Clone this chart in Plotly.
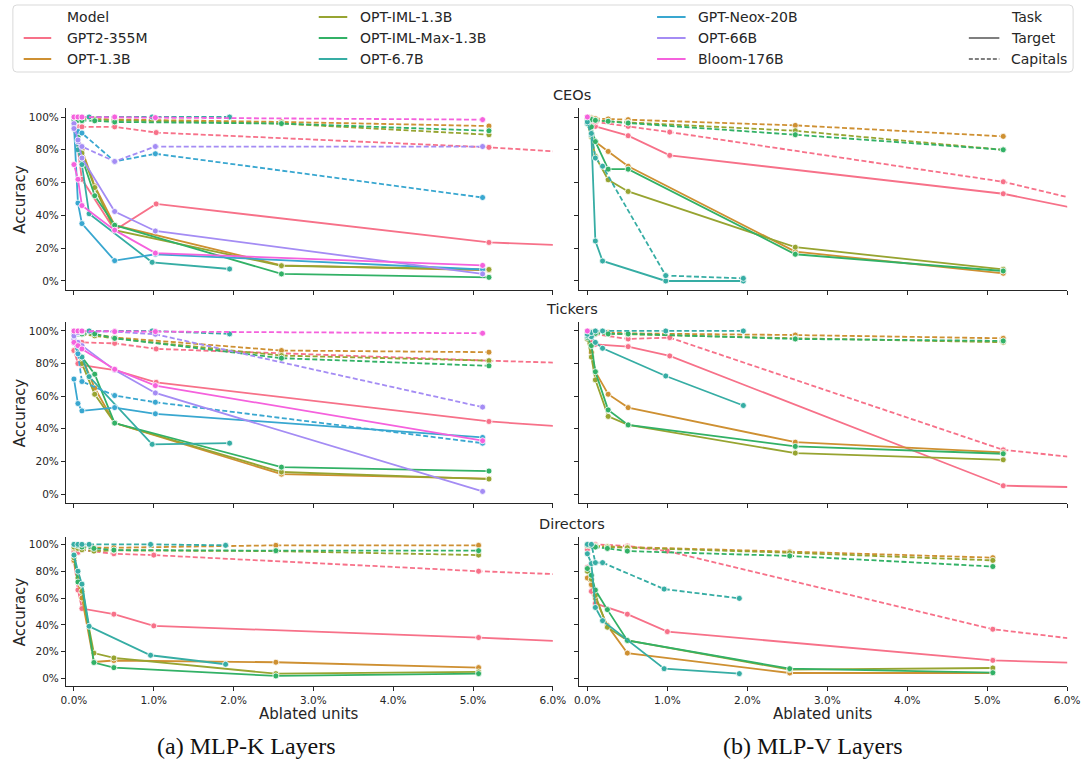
import plotly.graph_objects as go

W, H = 1092, 761

MODELS = ["GPT2-355M", "OPT-1.3B", "OPT-IML-1.3B", "OPT-IML-Max-1.3B",
          "OPT-6.7B", "GPT-Neox-20B", "OPT-66B", "Bloom-176B"]
COLORS = ["#f77189", "#ce9032", "#97a431", "#32b166",
          "#36ada4", "#39a7d0", "#a48cf4", "#f561dd"]

# ablated fraction of units (percent) per model family, CEOs / Tickers runs
X_GPT2_CT = [0.0, 0.05, 0.1, 0.51, 1.03, 5.2, 10.4]
X_OPT13_CT = [0.0, 0.05, 0.1, 0.26, 0.51, 2.6, 5.2]
X_OPT67_CT = [0.0, 0.05, 0.1, 0.19, 0.98, 1.95]
X_LARGE_CT = [0.0, 0.05, 0.1, 0.51, 1.02, 5.12]
# ablated fraction of units (percent) per model family, Directors runs
X_GPT2_D = [0.0, 0.05, 0.1, 0.5, 1.0, 5.07, 10.2]
X_OPT13_D = [0.0, 0.05, 0.1, 0.25, 0.5, 2.53, 5.07]
X_OPT67_D = [0.0, 0.05, 0.1, 0.19, 0.96, 1.9]
X_SINGLE = [0.0]

# ---- CEOs, MLP-K layers (accuracy, %) ----
CEOS_K_TARGET = {
    "GPT2-355M": [93, 80, 62, 31, 47, 23.5, 14],
    "OPT-1.3B": [97, 90, 80, 58, 34, 9.5, 6.5],
    "OPT-IML-1.3B": [96, 88, 78, 57, 31, 9.3, 7],
    "OPT-IML-Max-1.3B": [97, 88, 75, 52, 34, 4.3, 2.2],
    "OPT-6.7B": [94, 80, 71, 41, 11.4, 7.3],
    "GPT-Neox-20B": [95, 47.5, 35, 12.4, 16.3, 7],
    "OPT-66B": [96, 85, 75, 42.4, 30.5, 4.3],
    "Bloom-176B": [71, 62, 46, 31, 17, 9.5],
}
CEOS_K_CAPITALS = {
    "GPT2-355M": [93, 94, 94, 94, 90.5, 81.5, 66],
    "OPT-1.3B": [100, 99.5, 99, 98.8, 98.5, 97, 94.5],
    "OPT-IML-1.3B": [100, 99.5, 99, 98.5, 98, 96, 89.2],
    "OPT-IML-Max-1.3B": [98.4, 98, 97.8, 97.7, 97, 96, 91.6],
    "OPT-6.7B": [100, 100, 100, 100, 100, 100],
    "GPT-Neox-20B": [95.3, 91.2, 90.2, 72.9, 77.6, 50.9],
    "OPT-66B": [93, 86, 82, 72.9, 82, 82],
    "Bloom-176B": [100, 100, 100, 100, 99.6, 98.4],
}

# ---- CEOs, MLP-V layers ----
CEOS_V_TARGET = {
    "GPT2-355M": [97, 95, 94.3, 88.6, 76.6, 53.2, 1.5],
    "OPT-1.3B": [96, 90, 85, 79, 70, 17.9, 4.7],
    "OPT-IML-1.3B": [96, 88, 76, 61.7, 54.6, 20.6, 7.1],
    "OPT-IML-Max-1.3B": [97, 94, 85, 68.2, 68.2, 16.3, 6.1],
    "OPT-6.7B": [96, 89, 24.4, 12.2, 0, 0],
}
CEOS_V_CAPITALS = {
    "GPT2-355M": [99, 98, 97, 94.3, 90.8, 60.5, 0],
    "OPT-1.3B": [100, 99.5, 99, 98.8, 98.4, 94.9, 88.2],
    "OPT-IML-1.3B": [100, 99, 98, 97.4, 96.7, 91.6, 80],
    "OPT-IML-Max-1.3B": [99, 98.5, 98, 97.4, 96.3, 89.2, 80],
    "OPT-6.7B": [97, 90, 75, 70, 3.3, 1.6],
    "Bloom-176B": [100],
}

# ---- Tickers, MLP-K layers ----
TICKERS_K_TARGET = {
    "GPT2-355M": [88, 80, 79, 76, 68.5, 44.5, 27],
    "OPT-1.3B": [96, 88, 84, 65, 43.5, 12.2, 9.4],
    "OPT-IML-1.3B": [95, 86, 80, 61.2, 43.5, 13.5, 9.2],
    "OPT-IML-Max-1.3B": [95, 89, 84, 73.5, 43.5, 16.5, 14.1],
    "OPT-6.7B": [93, 87, 84, 72, 30.5, 31.2],
    "GPT-Neox-20B": [70.5, 55.5, 51, 53, 49.2, 34.7],
    "OPT-66B": [95, 93, 91, 76, 62, 1.6],
    "Bloom-176B": [93, 91, 89, 76.5, 66.5, 32.7],
}
TICKERS_K_CAPITALS = {
    "GPT2-355M": [88, 93, 93, 92.4, 89, 81.8, 74],
    "OPT-1.3B": [100, 99.5, 99, 98, 96, 88, 87],
    "OPT-IML-1.3B": [99, 98.5, 98, 97, 95.5, 84.9, 81.8],
    "OPT-IML-Max-1.3B": [98, 98.2, 98.2, 98.2, 95.5, 83.3, 78.6],
    "OPT-6.7B": [98, 99, 99.5, 100, 100, 98.2],
    "GPT-Neox-20B": [95, 86, 69, 60.4, 56.3, 31.2],
    "OPT-66B": [97, 99, 99.5, 99.6, 98, 53.3],
    "Bloom-176B": [100, 100, 100, 99.6, 99.6, 98.6],
}

# ---- Tickers, MLP-V layers ----
TICKERS_V_TARGET = {
    "GPT2-355M": [95, 93, 91.8, 90.4, 84.7, 5.1, 0],
    "OPT-1.3B": [96.5, 87, 75, 61.2, 53, 31.8, 25.5],
    "OPT-IML-1.3B": [95, 84, 70, 47.6, 42.4, 25.1, 21],
    "OPT-IML-Max-1.3B": [96, 91, 75, 51.6, 42.4, 29.2, 24.7],
    "OPT-6.7B": [97, 96.5, 93, 89.4, 72.4, 54.3],
}
TICKERS_V_CAPITALS = {
    "GPT2-355M": [97, 98, 98, 95.1, 95.9, 27.1, 0.5],
    "OPT-1.3B": [100, 99.5, 99, 99, 98.5, 97.5, 95.5],
    "OPT-IML-1.3B": [99, 99, 98.5, 98.2, 98, 95.5, 93.1],
    "OPT-IML-Max-1.3B": [99, 98.8, 98.5, 98.2, 98.2, 95.1, 93.9],
    "OPT-6.7B": [98, 99, 100, 100, 100, 100],
    "Bloom-176B": [100],
}

# ---- Directors, MLP-K layers ----
DIRECTORS_K_TARGET = {
    "GPT2-355M": [87.6, 66, 52.2, 48, 39.3, 30.6, 16.6],
    "OPT-1.3B": [88, 72, 60, 12.4, 13.5, 12.2, 8.2],
    "OPT-IML-1.3B": [90, 75, 65, 19, 15.4, 3.7, 5],
    "OPT-IML-Max-1.3B": [92, 72, 70, 12, 8.2, 2, 3.7],
    "OPT-6.7B": [92, 80, 70.4, 39, 17.4, 10.7],
}
DIRECTORS_K_CAPITALS = {
    "GPT2-355M": [95, 94, 95.8, 93, 92, 80, 68.3],
    "OPT-1.3B": [97, 97.5, 98, 97.5, 97.5, 99.3, 99.3],
    "OPT-IML-1.3B": [98, 97, 96, 95, 95.5, 95, 92],
    "OPT-IML-Max-1.3B": [100, 99, 98, 97, 95.8, 95.3, 95.3],
    "OPT-6.7B": [100, 100, 100, 100, 100, 99.3],
}

# ---- Directors, MLP-V layers ----
DIRECTORS_V_TARGET = {
    "GPT2-355M": [83, 65, 56, 48, 35, 13.6, 4],
    "OPT-1.3B": [75, 70, 60, 39.5, 19, 4.2, 4.2],
    "OPT-IML-1.3B": [80, 74, 62, 38.3, 28.4, 6.7, 7.9],
    "OPT-IML-Max-1.3B": [82, 77, 66, 51.4, 28.4, 7.4, 4.4],
    "OPT-6.7B": [93, 85.7, 53, 43.2, 7.4, 3.7],
}
DIRECTORS_V_CAPITALS = {
    "GPT2-355M": [96, 99, 100, 98.8, 95, 36.8, 0.5],
    "OPT-1.3B": [100, 99.5, 99, 98.5, 98, 94.6, 90.1],
    "OPT-IML-1.3B": [99, 99, 98.5, 98, 97.5, 93.8, 88.1],
    "OPT-IML-Max-1.3B": [100, 99, 98, 97, 95, 91.4, 83.5],
    "OPT-6.7B": [100, 100, 86.4, 86.4, 66.7, 59.8],
}

ROW_TITLES = ["CEOs", "Tickers", "Directors"]
X_TICKS = [0, 1, 2, 3, 4, 5, 6]
X_TICK_TEXT = ["0.0%", "1.0%", "2.0%", "3.0%", "4.0%", "5.0%", "6.0%"]
Y_TICKS = [0, 20, 40, 60, 80, 100]
Y_TICK_TEXT = ["0%", "20%", "40%", "60%", "80%", "100%"]
CAPTIONS = ["(a) MLP-K Layers", "(b) MLP-V Layers"]

X_GRIDS = {
    "ct": {"gpt2": X_GPT2_CT, "opt13": X_OPT13_CT, "opt67": X_OPT67_CT,
           "large": X_LARGE_CT},
    "d": {"gpt2": X_GPT2_D, "opt13": X_OPT13_D, "opt67": X_OPT67_D,
          "large": X_LARGE_CT},
}


def x_for(model, n, run):
    grids = X_GRIDS[run]
    if n == 1:
        return X_SINGLE
    if model == "GPT2-355M":
        return grids["gpt2"]
    if model == "OPT-6.7B":
        return grids["opt67"]
    if model in ("GPT-Neox-20B", "OPT-66B", "Bloom-176B"):
        return grids["large"]
    return grids["opt13"]


PANELS = [
    (0, 0, "ct", CEOS_K_TARGET, CEOS_K_CAPITALS),
    (0, 1, "ct", CEOS_V_TARGET, CEOS_V_CAPITALS),
    (1, 0, "ct", TICKERS_K_TARGET, TICKERS_K_CAPITALS),
    (1, 1, "ct", TICKERS_V_TARGET, TICKERS_V_CAPITALS),
    (2, 0, "d", DIRECTORS_K_TARGET, DIRECTORS_K_CAPITALS),
    (2, 1, "d", DIRECTORS_V_TARGET, DIRECTORS_V_CAPITALS),
]

# layout geometry in pixels
COL_PX = [(62, 557), (584, 1080)]
ROW_PX = [(108, 290), (322, 503), (537, 686)]  # (top, bottom)
FONT = "DejaVu Sans"
INK = "#262626"


def px(x):
    return x / W


def py(y):
    return 1 - y / H


def rounded_box(x0, y0, x1, y1, rad):
    """SVG path (paper coords) for a rectangle with rounded corners, given in px."""
    a, b, c, d = px(x0), px(x1), py(y0), py(y1)
    rx, ry = rad / W, rad / H
    return (f"M {a + rx},{c} L {b - rx},{c} Q {b},{c} {b},{c - ry} "
            f"L {b},{d + ry} Q {b},{d} {b - rx},{d} L {a + rx},{d} "
            f"Q {a},{d} {a},{d + ry} L {a},{c - ry} Q {a},{c} {a + rx},{c} Z")


fig = go.Figure()
layout = dict(
    width=W, height=H, margin=dict(l=0, r=0, t=0, b=0),
    paper_bgcolor="white", plot_bgcolor="white", showlegend=False,
    font=dict(family=FONT, color=INK),
)

for idx, (r, c, run, target, capitals) in enumerate(PANELS):
    n = idx + 1
    xa = "x" if n == 1 else f"x{n}"
    ya = "y" if n == 1 else f"y{n}"
    for model, color in zip(MODELS, COLORS):
        for data, dash in ((target, "solid"), (capitals, "5px,2.5px")):
            if model not in data:
                continue
            vals = data[model]
            xs = x_for(model, len(vals), run)
            fig.add_trace(go.Scatter(
                x=xs, y=vals, xaxis=xa, yaxis=ya,
                mode="lines+markers" if len(vals) > 1 else "markers",
                line=dict(color=color, width=1.8, dash=dash),
                marker=dict(size=6, color=color,
                            line=dict(color="white", width=0.8)),
                hoverinfo="skip",
            ))
    x0, x1 = COL_PX[c]
    top, bot = ROW_PX[r]
    layout["xaxis" if n == 1 else f"xaxis{n}"] = dict(
        domain=[px(x0), px(x1)], range=[-0.1, 6.0], anchor=ya,
        showline=True, linecolor=INK, linewidth=1.1,
        ticks="outside", ticklen=4, tickwidth=1, tickcolor=INK,
        tickvals=X_TICKS, ticktext=X_TICK_TEXT, showticklabels=(r == 2),
        tickfont=dict(family=FONT, size=10.5, color=INK),
        showgrid=False, zeroline=False,
    )
    layout["yaxis" if n == 1 else f"yaxis{n}"] = dict(
        domain=[py(bot), py(top)], range=[-5.5, 105.5], anchor=xa,
        showline=True, linecolor=INK, linewidth=1.1,
        ticks="outside", ticklen=4, tickwidth=1, tickcolor=INK,
        tickvals=Y_TICKS, ticktext=Y_TICK_TEXT, showticklabels=(c == 0),
        tickfont=dict(family=FONT, size=10.5, color=INK),
        showgrid=False, zeroline=False,
    )

annotations = []
shapes = []

# row titles and y-axis titles
for r, title in enumerate(ROW_TITLES):
    top, bot = ROW_PX[r]
    annotations.append(dict(
        text=title, x=px(577), y=py(top - 13), xref="paper", yref="paper",
        showarrow=False, xanchor="center", yanchor="middle",
        font=dict(family=FONT, size=14.5, color=INK)))
    annotations.append(dict(
        text="Accuracy", x=px(15), y=py((top + bot) / 2), xref="paper",
        yref="paper", showarrow=False, textangle=-90,
        xanchor="center", yanchor="middle",
        font=dict(family=FONT, size=15, color=INK)))

# x-axis titles and panel captions
for c, cap in enumerate(CAPTIONS):
    x0, x1 = COL_PX[c]
    mid = (x0 + x1) / 2
    annotations.append(dict(
        text="Ablated units", x=px(mid), y=py(714), xref="paper",
        yref="paper", showarrow=False, xanchor="center", yanchor="middle",
        font=dict(family=FONT, size=15, color=INK)))
    annotations.append(dict(
        text=cap, x=px(246 if c == 0 else 822), y=py(746), xref="paper",
        yref="paper", showarrow=False, xanchor="center", yanchor="middle",
        font=dict(family="Liberation Serif", size=24, color="#111111")))

# legend frame
shapes.append(dict(type="path", xref="paper", yref="paper",
                   path=rounded_box(8, 5, 1086, 72, 4),
                   line=dict(color="#d9d9d9", width=1), fillcolor="white",
                   layer="below"))

LEGEND_ROWS = [17, 38, 59]
LEGEND_COLS = [(19, 47, 61), (319, 348, 359), (663, 692, 703), (980, 1011, 1021)]
legend_items = [(0, 0, "Model", None, None)]
for i, (m, col) in enumerate(zip(MODELS, COLORS)):
    slot = i + 1
    legend_items.append((slot // 3, slot % 3, m, col, "solid"))
legend_items += [(3, 0, "Task", None, None),
                 (3, 1, "Target", "#7f7f7f", "solid"),
                 (3, 2, "Capitals", "#7f7f7f", "dash")]

for col_i, row_i, label, color, dash in legend_items:
    lx0, lx1, tx = LEGEND_COLS[col_i]
    yy = LEGEND_ROWS[row_i]
    if color is not None:
        shapes.append(dict(type="line", xref="paper", yref="paper",
                           x0=px(lx0), x1=px(lx1), y0=py(yy), y1=py(yy),
                           line=dict(color=color, width=2,
                                     dash="4px,2px" if dash == "dash" else "solid")))
    annotations.append(dict(
        text=label, x=px(tx), y=py(yy), xref="paper", yref="paper",
        showarrow=False, xanchor="left", yanchor="middle",
        font=dict(family=FONT, size=14, color=INK)))

layout["annotations"] = annotations
layout["shapes"] = shapes
fig.update_layout(**layout)
fig.write_html("out.html")
